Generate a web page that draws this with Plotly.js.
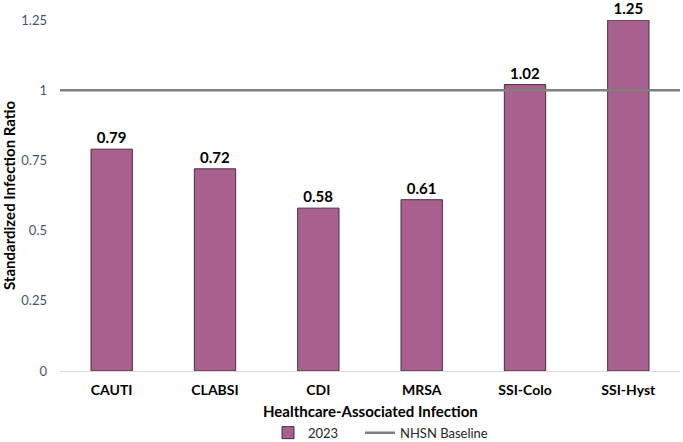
<!DOCTYPE html>
<html>
<head>
<meta charset="utf-8">
<script src="https://cdn.plot.ly/plotly-3.0.1.min.js"></script>
<style>html,body{margin:0;padding:0;background:#fff;}#chart{width:683px;height:442px;}</style>
</head>
<body>
<div id="chart"></div>
<script>
const categories = ["CAUTI", "CLABSI", "CDI", "MRSA", "SSI-Colo", "SSI-Hyst"];
const sir2023 = [0.79, 0.72, 0.58, 0.61, 1.02, 1.25];
const baselineValue = 1;
const yTicks = [0, 0.25, 0.5, 0.75, 1, 1.25];
const yTickLabels = ["0", "0.25", "0.5", "0.75", "1", "1.25"];
const xTitle = "Healthcare-Associated Infection";
const yTitle = "Standardized Infection Ratio";

const font = "Lato, 'Open Sans', sans-serif";

const bars = {
  type: "bar",
  name: "2023",
  legend: "legend",
  x: categories,
  y: sir2023,
  width: 0.4,
  marker: { color: "#A8608E", line: { color: "#4A2D3E", width: 1 } },
  text: sir2023.map(v => v.toFixed(2)),
  textposition: "outside",
  cliponaxis: false,
  textfont: { family: font, size: 15, color: "#000", weight: "bold" },
  hoverinfo: "x+y"
};

const baseline = {
  type: "scatter",
  mode: "lines",
  name: "NHSN Baseline",
  legend: "legend2",
  x: [0, 1],
  y: [baselineValue, baselineValue],
  xaxis: "x2",
  line: { color: "#7F7F7F", width: 2.5 },
  cliponaxis: false
};

const legendCommon = {
  orientation: "h",
  xanchor: "left", xref: "container",
  y: 0.055, yanchor: "top", yref: "container",
  font: { family: font, size: 13, color: "#262626" },
  itemwidth: 30,
  bgcolor: "rgba(0,0,0,0)"
};

const layout = {
  width: 683,
  height: 442,
  margin: { l: 60, r: 3, t: 20, b: 71 },
  paper_bgcolor: "#fff",
  plot_bgcolor: "#fff",
  font: { family: font, color: "#000" },
  showlegend: true,
  legend: Object.assign({}, legendCommon, { x: 268 / 683 }),
  legend2: Object.assign({}, legendCommon, { x: 360 / 683 }),
  annotations: [{
    text: xTitle,
    xref: "paper", yref: "paper",
    x: 0.5, y: -0.114,
    xanchor: "center", yanchor: "middle",
    showarrow: false,
    font: { family: font, size: 15, color: "#000", weight: "bold" }
  }],
  xaxis: {
    type: "category",
    automargin: false,
    tickfont: { family: font, size: 14, color: "#000", weight: "bold" },
    showgrid: false,
    showline: true,
    linecolor: "#D9D9D9",
    linewidth: 1,
    ticks: "",
    ticklen: 0,
    ticklabelstandoff: 6
  },
  xaxis2: {
    overlaying: "x",
    range: [0, 1],
    visible: false,
    fixedrange: true
  },
  yaxis: {
    automargin: false,
    range: [0, 1.25],
    tickvals: yTicks,
    ticktext: yTickLabels,
    tickfont: { family: font, size: 13, color: "#44546A" },
    showgrid: false,
    zeroline: false,
    showline: false,
    ticks: "",
    ticklabelstandoff: 12,
    title: { text: yTitle, font: { family: font, size: 15, color: "#000", weight: "bold" }, standoff: 8 }
  }
};

Plotly.newPlot("chart", [bars, baseline], layout, { displayModeBar: false, staticPlot: true });
</script>
</body>
</html>
